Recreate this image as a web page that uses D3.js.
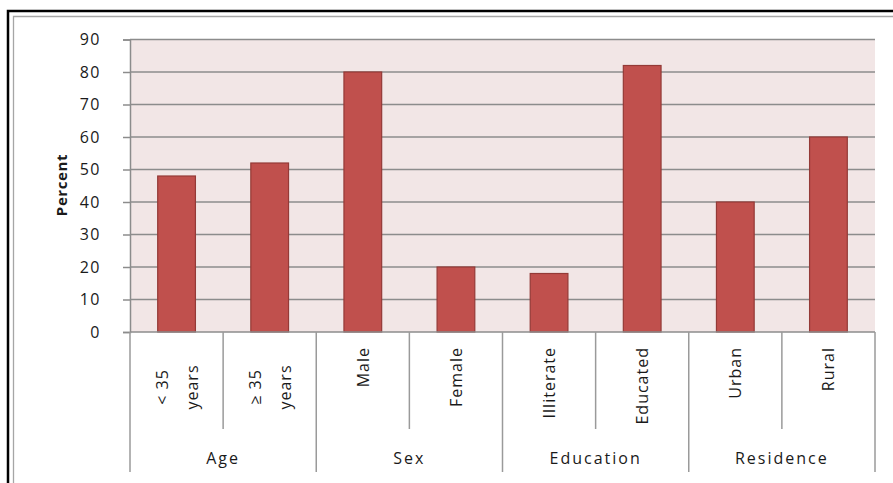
<!DOCTYPE html>
<html>
<head>
<meta charset="utf-8">
<script src="https://cdn.jsdelivr.net/npm/d3@7"></script>
<style>
  html, body { margin: 0; padding: 0; background: #fff; }
  svg { display: block; }
  text { font-family: "Open Sans", "DejaVu Sans", sans-serif; fill: #1a1a1a; }
</style>
</head>
<body>
<script>
// Share of respondents by characteristic
const groups = ["Age", "Sex", "Education", "Residence"];
const categories = [["< 35", "years"], ["\u2265 35", "years"], ["Male"], ["Female"], ["Illiterate"], ["Educated"], ["Urban"], ["Rural"]];
const categoryGroup = [0, 0, 1, 1, 2, 2, 3, 3];
const values = [48, 52, 80, 20, 18, 82, 40, 60];
const yTicks = [0, 10, 20, 30, 40, 50, 60, 70, 80, 90];

const W = 893, H = 483;
const plot = { left: 130, right: 875, top: 39.5, bottom: 332 };

const svg = d3.select("body").append("svg").attr("width", W).attr("height", H);

// chart frame: heavy black edge with a thin grey inner edge
svg.append("path").attr("d", `M8,${H} V11 H${W}`)
  .attr("fill", "none").attr("stroke", "#000").attr("stroke-width", 2.5);
svg.append("path").attr("d", `M13.5,${H} V16.5 H${W}`)
  .attr("fill", "none").attr("stroke", "#a6a6a6").attr("stroke-width", 1.3);

const x = d3.scaleBand().domain(d3.range(categories.length))
  .range([plot.left, plot.right]).paddingInner(0).paddingOuter(0);
const y = d3.scaleLinear().domain([0, 90]).range([plot.bottom, plot.top]);

// plot background
svg.append("rect")
  .attr("x", plot.left).attr("y", plot.top)
  .attr("width", plot.right - plot.left).attr("height", plot.bottom - plot.top)
  .attr("fill", "#f2e6e6");

// gridlines
svg.append("g").selectAll("line").data(yTicks.filter(d => d > 0)).join("line")
  .attr("x1", plot.left).attr("x2", plot.right)
  .attr("y1", d => y(d)).attr("y2", d => y(d))
  .attr("stroke", "#8c8c8c").attr("stroke-width", 1.5);

// y axis
const yAxis = svg.append("g").attr("transform", `translate(${plot.left},0)`)
  .call(d3.axisLeft(y).tickValues(yTicks).tickSize(7).tickPadding(22));
yAxis.select(".domain").attr("stroke", "#8c8c8c").attr("stroke-width", 1.5);
yAxis.selectAll(".tick line").attr("stroke", "#8c8c8c").attr("stroke-width", 1.5);
yAxis.selectAll(".tick text")
  .style("font-family", "'Open Sans', sans-serif").style("font-size", "16px")
  .style("letter-spacing", "1.5px").attr("fill", "#1a1a1a");

svg.append("text")
  .attr("transform", `translate(61,185) rotate(-90)`)
  .attr("text-anchor", "middle").attr("dominant-baseline", "central")
  .style("font-size", "15px").style("font-weight", "bold").style("letter-spacing", "0.6px")
  .text("Percent");

// bars
const barW = x.bandwidth() * 0.405;
svg.append("g").selectAll("rect").data(values).join("rect")
  .attr("x", (d, i) => x(i) + (x.bandwidth() - barW) / 2)
  .attr("y", d => y(d))
  .attr("width", barW)
  .attr("height", d => y(0) - y(d))
  .attr("fill", "#c0504d").attr("stroke", "#943a37").attr("stroke-width", 1.2);

// baseline of the category axis
svg.append("line").attr("x1", plot.left).attr("x2", plot.right)
  .attr("y1", plot.bottom).attr("y2", plot.bottom)
  .attr("stroke", "#8c8c8c").attr("stroke-width", 1.5);

// category dividers: long ones between groups, short ones inside a group
const dividers = d3.range(categories.length + 1).map(i => {
  const xv = i < categories.length ? x(i) : plot.right;
  const isGroupEdge = i === 0 || i === categories.length || categoryGroup[i] !== categoryGroup[i - 1];
  return { x: xv, long: isGroupEdge };
});
svg.append("g").selectAll("line").data(dividers).join("line")
  .attr("x1", d => d.x).attr("x2", d => d.x)
  .attr("y1", plot.bottom).attr("y2", d => d.long ? 472 : 429)
  .attr("stroke", "#9a9a9a").attr("stroke-width", 1.5);

// category labels, rotated
const catG = svg.append("g");
categories.forEach((lines, i) => {
  const cx = x(i) + x.bandwidth() / 2;
  if (lines.length === 1) {
    catG.append("text")
      .attr("transform", `translate(${cx},347) rotate(-90)`)
      .attr("text-anchor", "end").attr("dominant-baseline", "central")
      .style("font-size", "16px").style("letter-spacing", "1px")
      .text(lines[0]);
  } else {
    lines.forEach((t, k) => {
      catG.append("text")
        .attr("transform", `translate(${cx + (k === 0 ? -15 : 15)},387) rotate(-90)`)
        .attr("text-anchor", "middle").attr("dominant-baseline", "central")
        .style("font-size", "16px").style("letter-spacing", "1px")
        .text(t);
    });
  }
});

// group labels
svg.append("g").selectAll("text").data(groups).join("text")
  .attr("x", (g, gi) => {
    const idx = categoryGroup.map((c, i) => c === gi ? i : -1).filter(i => i >= 0);
    return (x(idx[0]) + x(idx[idx.length - 1]) + x.bandwidth()) / 2;
  })
  .attr("y", 464)
  .attr("text-anchor", "middle")
  .style("font-size", "16px").style("letter-spacing", "2px")
  .text(d => d);
</script>
</body>
</html>
